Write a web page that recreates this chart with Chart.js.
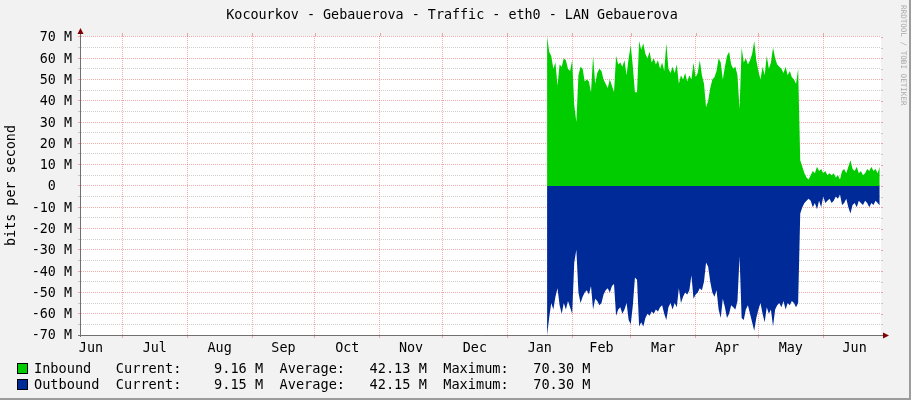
<!DOCTYPE html>
<html><head><meta charset="utf-8">
<script src="https://cdn.jsdelivr.net/npm/chart.js@4/dist/chart.umd.min.js"></script>
<style>
html,body{margin:0;padding:0;background:#f2f2f2;}
canvas{display:block;}
</style></head><body>
<canvas id="c" width="911" height="400"></canvas>
<script>
// ---------- data ----------
const TITLE = 'Kocourkov - Gebauerova - Traffic - eth0 - LAN Gebauerova';
const Y_TITLE = 'bits per second';
const CREDIT = 'RRDTOOL / TOBI OETIKER';
const monthLabels = ['Jun','Jul','Aug','Sep','Oct','Nov','Dec','Jan','Feb','Mar','Apr','May','Jun'];
const monthStartDays = [0,30,61,92,122,153,183,214,245,273,304,334,365,395]; // days since Jun 1
const viewStartDay = 10.26;
const viewEndDay = 392.6;
const dataStartDay = 233; // first day with samples (Jan 20)
const yTickValues = [-70,-65,-60,-55,-50,-45,-40,-35,-30,-25,-20,-15,-10,-5,0,5,10,15,20,25,30,35,40,45,50,55,60,65,70];

// daily averages, Mbit/s
const inbound = [
 70.3,63,61,55,58,47,57,56,60,59,
 55,54,59,38,30,52,56,55,49,50,
 49,44,61,48,53,55,54,50,48,46,
 50,47,44,61,57,58,56,59,52,60,
 66,56,44,44,68,64,67,62,60,63,
 58,60,57,59,55,58,54,67,55,53,
 56,53,57,48,52,50,53,49,52,50,
 58,51,53,59,52,48,37,40,46,50,
 51,54,60,58,50,56,61,63,57,55,
 56,52,36,65,58,60,57,59,62,68,
 59,54,50,56,52,61,55,58,65,60,
 57,56,55,53,56,52,54,51,50,48,
 55,12,9,6,4,3,5,7,6,9,
 7,8,6,7,5,6,5,6,4,5,
 3,7,8,6,9,12,8,7,9,6,
 7,5,6,8,7,9,7,8,6,9.16];
const outbound = [
 70.3,62,55,58,52,48,56,60,55,58,
 54,57,60,36,30,50,55,52,50,49,
 51,47,58,53,54,56,55,51,49,48,
 50,47,46,61,58,57,60,58,55,63,
 65,56,43,44,66,64,66,62,60,61,
 59,60,58,59,57,56,60,63,57,55,
 58,55,57,48,55,52,50,51,49,42,
 53,51,50,48,49,45,36,38,45,50,
 52,49,58,62,53,57,62,60,56,57,
 58,54,33,62,63,58,56,60,64,68,
 62,58,55,60,64,57,60,58,66,58,
 56,55,57,54,58,55,56,54,55,57,
 55,13,10,8,7,6,7,10,8,11,
 7,10,5,8,7,6,8,7,5,6,
 4,9,8,6,10,13,9,8,10,7,
 8,9,7,8,10,8,9,7,8,9.15];

const legendNames = ['Inbound','Outbound'];
const legendCurrent = ['9.16 M','9.15 M'];
const legendAverage = ['42.13 M','42.15 M'];
const legendMaximum = ['70.30 M','70.30 M'];
const seriesColors = ['#00cc00','#002a97'];

// ---------- helpers ----------
const FONT = '"DejaVu Sans Mono", "Liberation Mono", monospace';
const boundarySet = new Set(monthStartDays);
const midLabel = new Map();
for (let m = 0; m < monthLabels.length; m++) {
  const mid = (monthStartDays[m] + monthStartDays[m+1]) / 2;
  midLabel.set(mid, monthLabels[m]);
}
const MAJOR = 'rgba(225,40,40,0.38)';
const MINOR = 'rgba(140,140,140,0.42)';

const inData = inbound.map((v,i)=>({x: dataStartDay + i, y: v}));
const outData = outbound.map((v,i)=>({x: dataStartDay + i, y: -v}));

const rrdPlugin = {
  id: 'rrd',
  beforeDraw(chart){
    const {ctx, chartArea:a, width:W, height:H} = chart;
    ctx.save();
    ctx.fillStyle = '#f2f2f2'; ctx.fillRect(0,0,W,H);
    ctx.fillStyle = '#9c9c9c'; ctx.fillRect(W-2,0,2,H); ctx.fillRect(0,H-2,W,2);
    ctx.fillStyle = '#ffffff'; ctx.fillRect(a.left, a.top, a.right-a.left, a.bottom-a.top);
    ctx.restore();
  },
  afterDraw(chart){
    const {ctx, chartArea:a, scales} = chart;
    ctx.save();
    // small marks at right edge and top edge
    ctx.lineWidth = 1;
    scales.y.ticks.forEach(t=>{
      const y = Math.round(scales.y.getPixelForValue(t.value)) + 0.5;
      ctx.strokeStyle = (t.value % 10 === 0) ? MAJOR : MINOR;
      ctx.beginPath(); ctx.moveTo(a.right, y); ctx.lineTo(a.right+2, y); ctx.stroke();
    });
    monthStartDays.forEach(d=>{
      if (d < viewStartDay || d > viewEndDay) return;
      const x = Math.round(scales.x.getPixelForValue(d)) + 0.5;
      ctx.strokeStyle = MAJOR;
      ctx.beginPath(); ctx.moveTo(x, a.top-3); ctx.lineTo(x, a.top); ctx.stroke();
    });
    // axes
    ctx.strokeStyle = '#707070';
    ctx.beginPath();
    ctx.moveTo(a.left-0.5, a.top-3); ctx.lineTo(a.left-0.5, a.bottom+2);
    ctx.moveTo(a.left-3, a.bottom+0.5); ctx.lineTo(a.right+4, a.bottom+0.5);
    ctx.stroke();
    ctx.fillStyle = '#7f0000';
    ctx.beginPath();
    ctx.moveTo(a.left-0.5, a.top-8); ctx.lineTo(a.left-3.5, a.top-2); ctx.lineTo(a.left+2.5, a.top-2); ctx.closePath(); ctx.fill();
    ctx.beginPath();
    ctx.moveTo(a.right+8, a.bottom+0.5); ctx.lineTo(a.right+2, a.bottom-2.5); ctx.lineTo(a.right+2, a.bottom+3.5); ctx.closePath(); ctx.fill();
    // title
    ctx.fillStyle = '#000';
    ctx.font = '13.4px ' + FONT;
    ctx.textAlign = 'center'; ctx.textBaseline = 'middle';
    ctx.fillText(TITLE, 452, 15.5);
    // legend
    ctx.font = '13.6px ' + FONT;
    ctx.textAlign = 'left';
    for (let r = 0; r < legendNames.length; r++) {
      const cy = 369 + r*16;
      ctx.fillStyle = seriesColors[r];
      ctx.fillRect(18, cy-5, 9, 9);
      ctx.strokeStyle = '#000'; ctx.lineWidth = 1;
      ctx.strokeRect(17.5, cy-5.5, 10, 10);
      ctx.fillStyle = '#000';
      const line = legendNames[r].padEnd(10) + 'Current:' + legendCurrent[r].padStart(10) + '  ' +
                   'Average:' + legendAverage[r].padStart(10) + '  ' +
                   'Maximum:' + legendMaximum[r].padStart(10);
      ctx.fillText(line, 34, cy + 0.5);
    }
    // credit
    ctx.translate(903, 5);
    ctx.rotate(Math.PI/2);
    ctx.font = '7.6px ' + FONT;
    ctx.fillStyle = '#aaaaaa';
    ctx.textBaseline = 'middle';
    ctx.fillText(CREDIT, 0, 0);
    ctx.restore();
  }
};

new Chart(document.getElementById('c'), {
  type: 'line',
  data: {
    datasets: [
      {label: legendNames[0], data: inData, fill: 'origin', backgroundColor: seriesColors[0], borderColor: 'transparent', borderWidth: 0, pointRadius: 0, tension: 0},
      {label: legendNames[1], data: outData, fill: 'origin', backgroundColor: seriesColors[1], borderColor: 'transparent', borderWidth: 0, pointRadius: 0, tension: 0}
    ]
  },
  options: {
    responsive: false,
    animation: false,
    devicePixelRatio: 1,
    layout: {padding: {left: 0, right: 30, top: 36, bottom: 45}},
    plugins: {legend: {display: false}, tooltip: {enabled: false}, title: {display: false}},
    scales: {
      x: {
        type: 'linear', min: viewStartDay, max: viewEndDay, z: 1,
        afterFit(s){ s.height = 20; },
        afterBuildTicks(s){
          const vals = [];
          monthStartDays.forEach(d=>{ if (d >= viewStartDay && d <= viewEndDay) vals.push(d); });
          midLabel.forEach((l,d)=>{ if (d >= viewStartDay && d <= viewEndDay) vals.push(d); });
          vals.sort((p,q)=>p-q);
          s.ticks = vals.map(v=>({value: v}));
        },
        ticks: {
          autoSkip: false, maxRotation: 0, minRotation: 0, padding: 2, color: '#000',
          font: {family: FONT, size: 13.4},
          callback: (v)=> midLabel.has(v) ? midLabel.get(v) : ''
        },
        grid: {
          drawOnChartArea: true, tickLength: 3, lineWidth: 1,
          color: (c)=> c.tick && boundarySet.has(c.tick.value) ? MAJOR : 'transparent',
          tickColor: (c)=> c.tick && boundarySet.has(c.tick.value) ? MAJOR : 'transparent'
        },
        border: {display: false, dash: [1,1]}
      },
      y: {
        type: 'linear', min: -70, max: 70.4, z: 1,
        afterFit(s){ s.width = 81; },
        afterBuildTicks(s){ s.ticks = yTickValues.map(v=>({value: v})); },
        ticks: {
          autoSkip: false, padding: 6, color: '#000', labelOffset: 1,
          font: {family: FONT, size: 13.4},
          callback: (v)=> (v % 10 !== 0) ? '' : (v === 0 ? '0  ' : v + ' M')
        },
        grid: {
          tickLength: 3, lineWidth: 1,
          color: (c)=> c.tick && c.tick.value % 10 === 0 ? MAJOR : MINOR,
          tickColor: (c)=> c.tick && c.tick.value % 10 === 0 ? MAJOR : MINOR
        },
        border: {display: false, dash: [1,1]},
        title: {display: true, text: Y_TITLE, color: '#000', font: {family: FONT, size: 13.4}, padding: {top: 3, bottom: 0}}
      }
    }
  },
  plugins: [rrdPlugin]
});
</script>
</body></html>
